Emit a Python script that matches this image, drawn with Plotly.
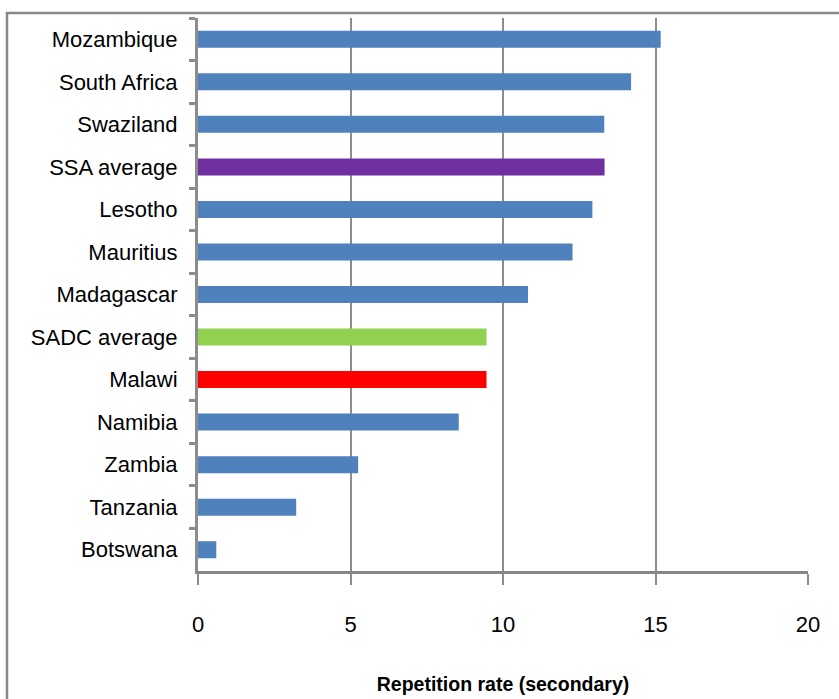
import plotly.graph_objects as go

# Secondary repetition rates, listed top to bottom
countries = [
    "Mozambique", "South Africa", "Swaziland", "SSA average", "Lesotho",
    "Mauritius", "Madagascar", "SADC average", "Malawi", "Namibia",
    "Zambia", "Tanzania", "Botswana",
]
rates = [15.17, 14.2, 13.32, 13.33, 12.93, 12.28, 10.82, 9.46, 9.46, 8.55, 5.25, 3.22, 0.6]
bar_colors = [
    "#4F81BD", "#4F81BD", "#4F81BD", "#7030A0", "#4F81BD",
    "#4F81BD", "#4F81BD", "#92D050", "#FF0000", "#4F81BD",
    "#4F81BD", "#4F81BD", "#4F81BD",
]
x_ticks = [0, 5, 10, 15, 20]

FONT = "Liberation Sans Narrow, Arial Narrow, Liberation Sans, Arial, sans-serif"
GRID = "#8C8C8C"

fig = go.Figure(
    go.Bar(
        x=rates,
        y=countries,
        orientation="h",
        marker=dict(color=bar_colors, line=dict(width=0)),
        width=0.4,
        hoverinfo="x+y",
    )
)

fig.update_layout(
    width=839,
    height=699,
    margin=dict(l=198, r=31, t=18, b=128),
    paper_bgcolor="white",
    plot_bgcolor="white",
    showlegend=False,
    font=dict(family=FONT, size=21, color="black"),
    xaxis=dict(
        range=[0, 20],
        tickvals=x_ticks,
        ticktext=[str(v) for v in x_ticks],
        showgrid=True,
        gridcolor=GRID,
        gridwidth=2,
        showline=True,
        linecolor="#868686",
        linewidth=3,
        ticks="outside",
        ticklen=11,
        tickwidth=2,
        tickcolor=GRID,
        ticklabelstandoff=21,
        zeroline=False,
        automargin=False,
        tickfont=dict(family=FONT, size=22, color="black"),
        title=dict(
            text="<b>Repetition rate (secondary)</b>",
            font=dict(family=FONT, size=19.5, color="black"),
            standoff=41,
        ),
    ),
    yaxis=dict(
        autorange="reversed",
        showgrid=False,
        showline=True,
        linecolor=GRID,
        linewidth=3,
        ticks="outside",
        tickson="boundaries",
        ticklen=6,
        tickwidth=3,
        tickcolor=GRID,
        ticklabelstandoff=13,
        automargin=False,
        tickfont=dict(family=FONT, size=22, color="black"),
        zeroline=False,
    ),
)

# Outer chart frame
fig.add_shape(
    type="rect",
    xref="paper", yref="paper",
    x0=(7 - 198) / 610, x1=1.2,
    y0=-0.5, y1=(571 - 13) / 553,
    line=dict(color="#888888", width=2.5),
    fillcolor="rgba(0,0,0,0)",
    layer="below",
)

fig.write_html("out.html")
